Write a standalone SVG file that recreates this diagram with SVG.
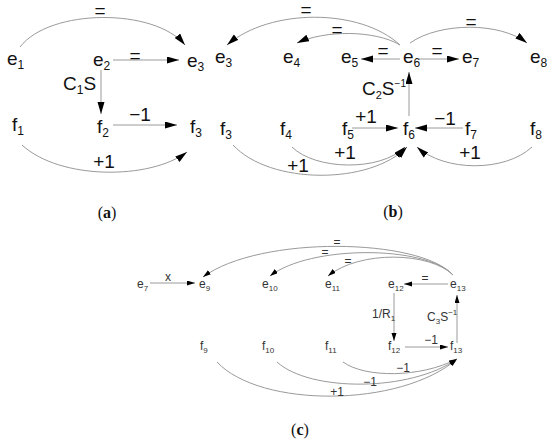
<svg xmlns="http://www.w3.org/2000/svg" width="550" height="443" viewBox="0 0 550 443">
<style>
.n{font-family:"Liberation Sans",Arial,sans-serif;font-size:19px;fill:#111}
.s{font-size:12px}
.l{font-family:"Liberation Sans",Arial,sans-serif;font-size:19px;fill:#111;text-anchor:middle}
.nc{font-family:"Liberation Sans",Arial,sans-serif;font-size:12px;fill:#333}
.sc{font-size:8px}
.lc{font-family:"Liberation Sans",Arial,sans-serif;font-size:12px;fill:#333;text-anchor:middle}
.cap{font-family:"Liberation Serif","Times New Roman",serif;font-size:16px;fill:#111;text-anchor:middle}
.c{fill:none;stroke:#9a9a9a;stroke-width:1}
.a{marker-end:url(#ab)}
.b{marker-end:url(#as)}
</style>
<defs>
<marker id="ab" markerUnits="userSpaceOnUse" markerWidth="13" markerHeight="8" refX="12" refY="3.5" orient="auto"><path d="M0,0 L12,3.5 L0,7 z" fill="#000"/></marker>
<marker id="as" markerUnits="userSpaceOnUse" markerWidth="9" markerHeight="6" refX="8" refY="2.5" orient="auto"><path d="M0,0 L8,2.5 L0,5 z" fill="#000"/></marker>
</defs>

<g id="connectors">
<!-- (a) -->
<path class="c a" d="M20,47 C50,8 155,8 185,45"/>
<path class="c a" d="M113,60 L179,60"/>
<path class="c a" d="M101,70 L101,114"/>
<path class="c a" d="M113,125 L177,125"/>
<path class="c a" d="M22,145 C60,180 150,180 187,152"/>
<!-- (b) -->
<path class="c a" d="M400,45 C360,8 270,8 227,45"/>
<path class="c a" d="M400,45 C375,30 325,30 297,43"/>
<path class="c a" d="M410,43 C440,22 500,22 527,43"/>
<path class="c a" d="M400,59 L361,59"/>
<path class="c a" d="M419,59 L459,59"/>
<path class="c a" d="M409,116 L409,72"/>
<path class="c a" d="M352,128 L398,128"/>
<path class="c a" d="M463,128 L415,128"/>
<path class="c a" d="M233,145 C270,185 370,185 407,147"/>
<path class="c a" d="M292,147 C315,170 380,172 405,147"/>
<path class="c a" d="M532,147 C505,172 445,172 417,147"/>
<!-- (c) -->
<path class="c b" d="M150,283 L195,283"/>
<path class="c b" d="M448,284 L404,284"/>
<path class="c b" d="M394,293 L394,341"/>
<path class="c b" d="M457,343 L457,295"/>
<path class="c b" d="M405,347 L448,347"/>
<path class="c b" d="M453,275 C420,238 260,235 203,277"/>
<path class="c b" d="M453,275 C425,245 310,245 270,276"/>
<path class="c b" d="M453,275 C430,252 360,250 328,276"/>
<path class="c b" d="M217,362 C260,408 400,408 457,359"/>
<path class="c b" d="M277,362 C310,392 410,392 457,359"/>
<path class="c b" d="M343,362 C365,378 420,378 457,359"/>
</g>

<g id="labels">
<text class="l" x="100" y="17">=</text>
<text class="l" x="135" y="62">=</text>
<text class="n" x="63" y="90">C<tspan class="s" dy="4">1</tspan><tspan dy="-4">S</tspan></text>
<text class="l" x="140" y="121">−1</text>
<text class="l" x="104" y="168">+1</text>
<text class="l" x="306" y="16">=</text>
<text class="l" x="337" y="36">=</text>
<text class="l" x="471" y="28">=</text>
<text class="l" x="383" y="57">=</text>
<text class="l" x="437" y="57">=</text>
<text class="n" x="362" y="95" font-size="18">C<tspan font-size="11" dy="4">2</tspan><tspan dy="-4">S</tspan><tspan font-size="10" dy="-8">−1</tspan></text>
<text class="l" x="366" y="123">+1</text>
<text class="l" x="445" y="125">−1</text>
<text class="l" x="298" y="172">+1</text>
<text class="l" x="345" y="159">+1</text>
<text class="l" x="470" y="159">+1</text>
<text class="lc" x="168" y="281">x</text>
<text class="lc" x="425" y="282">=</text>
<text class="lc" x="337" y="246">=</text>
<text class="lc" x="325" y="256">=</text>
<text class="lc" x="348" y="265">=</text>
<text class="nc" x="372" y="318">1/R<tspan class="sc" dy="3">1</tspan></text>
<text class="nc" x="427" y="321">C<tspan class="sc" dy="3">3</tspan><tspan dy="-3">S</tspan><tspan class="sc" dy="-6">−1</tspan></text>
<text class="lc" x="431" y="344">−1</text>
<text class="lc" x="337" y="396">+1</text>
<text class="lc" x="370" y="386">−1</text>
<text class="lc" x="403" y="372">−1</text>
</g>

<g id="e1"><text class="n" x="7" y="65">e<tspan class="s" dy="4">1</tspan></text></g>
<g id="e2"><text class="n" x="93" y="66">e<tspan class="s" dy="4">2</tspan></text></g>
<g id="e3a"><text class="n" x="187" y="67">e<tspan class="s" dy="4">3</tspan></text></g>
<g id="f1"><text class="n" x="12" y="131">f<tspan class="s" dy="4">1</tspan></text></g>
<g id="f2"><text class="n" x="97" y="133">f<tspan class="s" dy="4">2</tspan></text></g>
<g id="f3a"><text class="n" x="190" y="133">f<tspan class="s" dy="4">3</tspan></text></g>

<g id="e3b"><text class="n" x="215" y="63">e<tspan class="s" dy="4">3</tspan></text></g>
<g id="e4"><text class="n" x="283" y="63">e<tspan class="s" dy="4">4</tspan></text></g>
<g id="e5"><text class="n" x="341" y="63">e<tspan class="s" dy="4">5</tspan></text></g>
<g id="e6"><text class="n" x="403" y="63">e<tspan class="s" dy="4">6</tspan></text></g>
<g id="e7b"><text class="n" x="462" y="63">e<tspan class="s" dy="4">7</tspan></text></g>
<g id="e8"><text class="n" x="530" y="63">e<tspan class="s" dy="4">8</tspan></text></g>
<g id="f3b"><text class="n" x="220" y="135">f<tspan class="s" dy="4">3</tspan></text></g>
<g id="f4"><text class="n" x="280" y="135">f<tspan class="s" dy="4">4</tspan></text></g>
<g id="f5"><text class="n" x="342" y="135">f<tspan class="s" dy="4">5</tspan></text></g>
<g id="f6"><text class="n" x="403" y="135">f<tspan class="s" dy="4">6</tspan></text></g>
<g id="f7"><text class="n" x="465" y="135">f<tspan class="s" dy="4">7</tspan></text></g>
<g id="f8"><text class="n" x="530" y="135">f<tspan class="s" dy="4">8</tspan></text></g>

<g id="e7c"><text class="nc" x="137" y="288">e<tspan class="sc" dy="3">7</tspan></text></g>
<g id="e9"><text class="nc" x="199" y="288">e<tspan class="sc" dy="3">9</tspan></text></g>
<g id="e10"><text class="nc" x="262" y="288">e<tspan class="sc" dy="3">10</tspan></text></g>
<g id="e11"><text class="nc" x="325" y="288">e<tspan class="sc" dy="3">11</tspan></text></g>
<g id="e12"><text class="nc" x="388" y="288">e<tspan class="sc" dy="3">12</tspan></text></g>
<g id="e13"><text class="nc" x="450" y="288">e<tspan class="sc" dy="3">13</tspan></text></g>
<g id="f9"><text class="nc" x="200" y="350">f<tspan class="sc" dy="3">9</tspan></text></g>
<g id="f10"><text class="nc" x="262" y="350">f<tspan class="sc" dy="3">10</tspan></text></g>
<g id="f11"><text class="nc" x="325" y="350">f<tspan class="sc" dy="3">11</tspan></text></g>
<g id="f12"><text class="nc" x="388" y="350">f<tspan class="sc" dy="3">12</tspan></text></g>
<g id="f13"><text class="nc" x="450" y="350">f<tspan class="sc" dy="3">13</tspan></text></g>

<g id="captions">
<text class="cap" x="107" y="218">(<tspan font-weight="bold">a</tspan>)</text>
<text class="cap" x="393" y="217">(<tspan font-weight="bold">b</tspan>)</text>
<text class="cap" x="300" y="435">(<tspan font-weight="bold">c</tspan>)</text>
</g>
</svg>
